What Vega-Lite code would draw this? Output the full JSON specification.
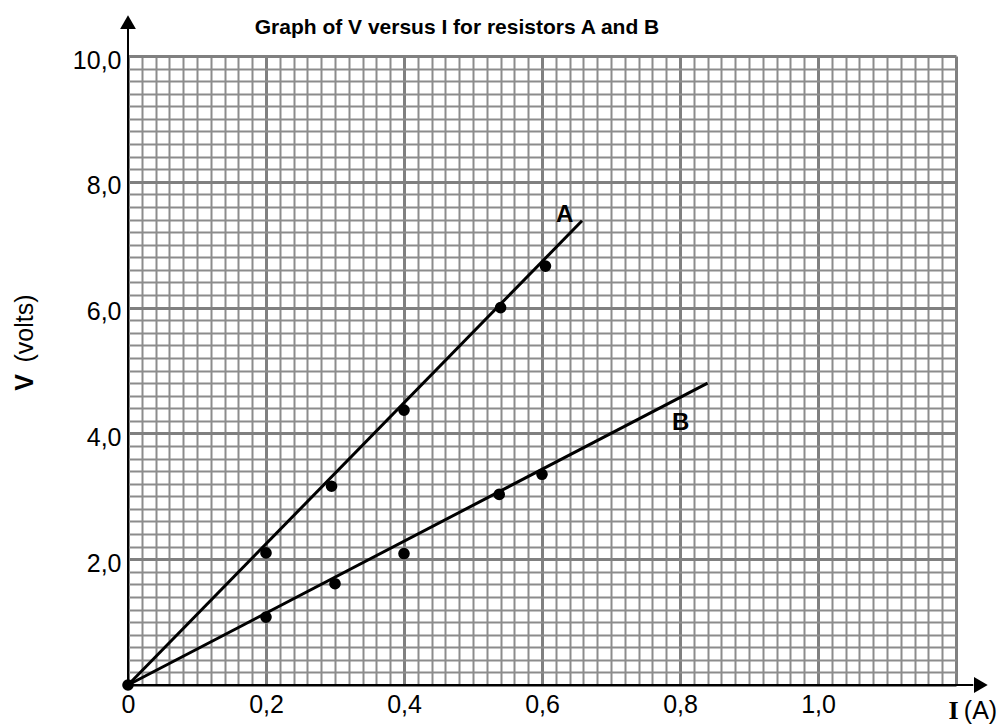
{
  "$schema": "https://vega.github.io/schema/vega-lite/v6.json",
  "width": 828,
  "height": 629,
  "autosize": "none",
  "padding": {"left": 128, "top": 56, "right": 44, "bottom": 39},
  "background": "white",
  "config": {"view": {"stroke": null}, "font": "Liberation Sans"},
  "title": {
    "text": "Graph of V versus I for resistors A and B",
    "font": "Liberation Sans",
    "fontSize": 21,
    "fontWeight": "bold",
    "color": "black",
    "anchor": "middle",
    "frame": "group",
    "dx": -85,
    "offset": -23
  },
  "datasets": {
    "axislines": [
      {"axis": "I", "I": 0, "V": 0, "I2": 1.225, "V2": 0},
      {"axis": "V", "I": 0, "V": 0, "I2": 0, "V2": 10.45}
    ],
    "arrows": [
      {"dir": "right", "I": 1.236, "V": 0},
      {"dir": "up", "I": 0, "V": 10.54}
    ],
    "points": [
      {"resistor": "A", "I": 0, "V": 0},
      {"resistor": "A", "I": 0.2, "V": 2.1},
      {"resistor": "A", "I": 0.295, "V": 3.16},
      {"resistor": "A", "I": 0.4, "V": 4.37},
      {"resistor": "A", "I": 0.54, "V": 6.0},
      {"resistor": "A", "I": 0.605, "V": 6.66},
      {"resistor": "B", "I": 0.2, "V": 1.08},
      {"resistor": "B", "I": 0.3, "V": 1.61},
      {"resistor": "B", "I": 0.4, "V": 2.09},
      {"resistor": "B", "I": 0.538, "V": 3.03},
      {"resistor": "B", "I": 0.6, "V": 3.35}
    ],
    "fits": [
      {"resistor": "A", "I": 0, "V": 0},
      {"resistor": "A", "I": 0.658, "V": 7.38},
      {"resistor": "B", "I": 0, "V": 0},
      {"resistor": "B", "I": 0.84, "V": 4.8}
    ],
    "labels": [
      {"resistor": "A", "I": 0.633, "V": 7.47},
      {"resistor": "B", "I": 0.801, "V": 4.16}
    ]
  },
  "resolve": {"axis": {"x": "independent", "y": "independent"}},
  "layer": [
    {
      "data": {"name": "axislines"},
      "mark": {"type": "rule", "color": "black", "strokeWidth": 2, "clip": false},
      "encoding": {
        "x": {
          "field": "I", "type": "quantitative",
          "scale": {"domain": [0, 1.2], "nice": false, "zero": false},
          "axis": {
            "orient": "bottom",
            "values": [0,0.02,0.04,0.06,0.08,0.1,0.12,0.14,0.16,0.18,0.2,0.22,0.24,0.26,0.28,0.3,0.32,0.34,0.36,0.38,0.4,0.42,0.44,0.46,0.48,0.5,0.52,0.54,0.56,0.58,0.6,0.62,0.64,0.66,0.68,0.7,0.72,0.74,0.76,0.78,0.8,0.82,0.84,0.86,0.88,0.9,0.92,0.94,0.96,0.98,1,1.02,1.04,1.06,1.08,1.1,1.12,1.14,1.16,1.18,1.2],
            "grid": true,
            "gridOpacity": 1,
            "gridColor": {"condition": {"test": "abs(datum.value*5 - round(datum.value*5)) < 0.001", "value": "#808080"}, "value": "#8c8c8c"},
            "gridWidth": {"condition": {"test": "abs(datum.value*5 - round(datum.value*5)) < 0.001", "value": 3}, "value": 2},
            "ticks": false,
            "domain": false,
            "labelExpr": "abs(datum.value*5 - round(datum.value*5)) < 0.001 && datum.value < 1.1 ? (datum.value == 0 ? '0' : replace(format(datum.value, '.1f'), '.', ',')) : ''",
            "labelFont": "Liberation Sans",
            "labelFontSize": 25,
            "labelColor": "black",
            "labelPadding": 7,
            "labelFlush": false,
            "labelOverlap": false,
            "title": "I",
            "titleFont": "Liberation Serif",
            "titleFontWeight": "bold",
            "titleFontSize": 26,
            "titleColor": "black",
            "titleX": 825,
            "titleY": 33,
            "titleAlign": "center",
            "titleBaseline": "alphabetic"
          }
        },
        "y": {
          "field": "V", "type": "quantitative",
          "scale": {"domain": [0, 10], "nice": false, "zero": false},
          "axis": {
            "orient": "left",
            "values": [0,0.2,0.4,0.6,0.8,1,1.2,1.4,1.6,1.8,2,2.2,2.4,2.6,2.8,3,3.2,3.4,3.6,3.8,4,4.2,4.4,4.6,4.8,5,5.2,5.4,5.6,5.8,6,6.2,6.4,6.6,6.8,7,7.2,7.4,7.6,7.8,8,8.2,8.4,8.6,8.8,9,9.2,9.4,9.6,9.8,10],
            "grid": true,
            "gridOpacity": 1,
            "gridColor": {"condition": {"test": "abs(datum.value/2 - round(datum.value/2)) < 0.001", "value": "#808080"}, "value": "#8c8c8c"},
            "gridWidth": {"condition": {"test": "abs(datum.value/2 - round(datum.value/2)) < 0.001", "value": 3}, "value": 2},
            "ticks": false,
            "domain": false,
            "labelExpr": "abs(datum.value/2 - round(datum.value/2)) < 0.001 && datum.value > 0.5 ? replace(format(datum.value, '.1f'), '.', ',') : ''",
            "labelFont": "Liberation Sans",
            "labelFontSize": 25,
            "labelColor": "black",
            "labelPadding": 7,
            "labelOffset": 4,
            "labelFlush": false,
            "labelOverlap": false,
            "title": "V",
            "titleFont": "Liberation Sans",
            "titleFontWeight": "bold",
            "titleFontSize": 25,
            "titleColor": "black",
            "titleAngle": -90,
            "titleX": -104,
            "titleY": 326,
            "titleAlign": "center",
            "titleBaseline": "middle"
          }
        },
        "x2": {"field": "I2"},
        "y2": {"field": "V2"}
      }
    },
    {
      "data": {"name": "arrows"},
      "mark": {"type": "point", "filled": true, "color": "black", "opacity": 1, "size": 250, "clip": false},
      "encoding": {
        "x": {"field": "I", "type": "quantitative", "axis": null},
        "y": {"field": "V", "type": "quantitative", "axis": null},
        "shape": {"field": "dir", "type": "nominal", "scale": {"domain": ["up", "right"], "range": ["triangle-up", "triangle-right"]}, "legend": null}
      }
    },
    {
      "data": {"name": "fits"},
      "mark": {"type": "line", "color": "black", "strokeWidth": 3, "clip": false},
      "encoding": {
        "x": {"field": "I", "type": "quantitative", "axis": null},
        "y": {"field": "V", "type": "quantitative", "axis": null},
        "detail": {"field": "resistor", "type": "nominal"}
      }
    },
    {
      "data": {"name": "points"},
      "mark": {"type": "circle", "color": "black", "opacity": 1, "size": 135, "clip": false},
      "encoding": {
        "x": {
          "field": "I", "type": "quantitative",
          "axis": {
            "orient": "bottom", "grid": false, "ticks": false, "domain": false, "labels": false,
            "title": "(A)", "titleFont": "Liberation Sans", "titleFontWeight": "normal", "titleFontSize": 25,
            "titleColor": "black", "titleX": 852, "titleY": 33, "titleAlign": "center", "titleBaseline": "alphabetic"
          }
        },
        "y": {
          "field": "V", "type": "quantitative",
          "axis": {
            "orient": "left", "grid": false, "ticks": false, "domain": false, "labels": false,
            "title": "(volts)", "titleFont": "Liberation Sans", "titleFontWeight": "normal", "titleFontSize": 25,
            "titleColor": "black", "titleAngle": -90, "titleX": -104, "titleY": 272, "titleAlign": "center", "titleBaseline": "middle"
          }
        }
      }
    },
    {
      "data": {"name": "labels"},
      "mark": {"type": "text", "color": "black", "font": "Liberation Sans", "fontSize": 24, "fontWeight": "bold", "align": "center", "baseline": "middle", "clip": false},
      "encoding": {
        "x": {"field": "I", "type": "quantitative", "axis": null},
        "y": {"field": "V", "type": "quantitative", "axis": null},
        "text": {"field": "resistor", "type": "nominal"}
      }
    }
  ]
}
